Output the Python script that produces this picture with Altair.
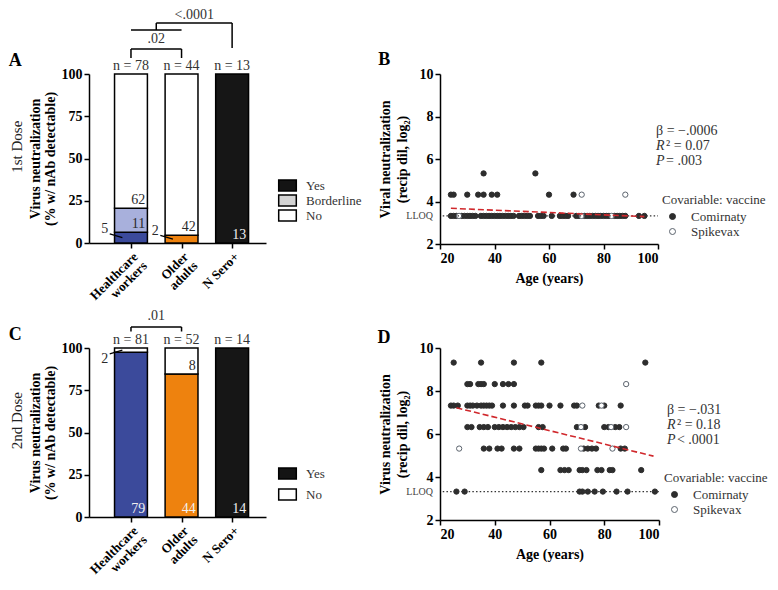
import math
import altair as alt
import pandas as pd

FONT = "Liberation Serif"

# ---------------- data: bar panels ----------------
groups = ["Healthcare workers", "Older adults", "N Sero+"]
group_label_lines = [["Healthcare", "workers"], ["Older", "adults"], ["N Sero+"]]
group_colors = ["#3b4a9b", "#ee820e", "#161616"]
borderline_color = "#a8b0dc"

dose1_yes = [5, 2, 13]
dose1_borderline = [11, 0, 0]
dose1_no = [62, 42, 0]
dose2_yes = [79, 44, 14]
dose2_borderline = [0, 0, 0]
dose2_no = [2, 8, 0]

dose1_pvals = [".02", "<.0001"]
dose2_pvals = [".01"]

responses1 = ["Yes", "Borderline", "No"]
legend_fills1 = ["#141414", "#d3d3d3", "white"]
responses2 = ["Yes", "No"]
legend_fills2 = ["#141414", "white"]

# ---------------- data: scatter panels (age by reciprocal dilution) ----------------
vaccines = ["Comirnaty", "Spikevax"]
LLOQ_DIL = 10

b_comirnaty = {
    10: [24, 25, 26, 28, 29, 30, 31, 32, 33, 35, 36, 37, 38, 39, 40, 41, 42, 43, 44, 45,
         46, 47, 49, 50, 51, 52, 53, 56, 57, 58, 61, 64, 65, 66, 67, 70, 71, 73, 74, 75,
         76, 77, 78, 79, 80, 81, 82, 84, 85, 86, 87, 88, 93, 95],
    20: [24, 25, 30, 34, 36, 39, 41, 60, 69],
    40: [36, 55],
}
b_spikevax = {10: [27, 72, 83], 20: [72, 88]}

d_comirnaty = {
    10: [26, 29, 71, 72, 74, 76.5, 79.5, 84.5, 88.5, 98.5],
    20: [57, 64, 65.5, 67, 71, 72, 73.5, 77.5, 79, 82, 83, 93.5],
    40: [36, 38, 41, 42.5, 47, 49, 55, 56, 57, 58, 61, 65, 66, 72.5, 74, 75.5, 77, 86, 87.5],
    80: [30, 31.5, 34.5, 36, 37.5, 40, 41.5, 43, 44.5, 46, 47.5, 49, 50.5, 56, 57.5, 70, 73,
         80, 81.5, 84, 85.5],
    160: [24, 25, 26.5, 30, 31, 32, 33.5, 35, 36, 37, 38, 39, 43, 47, 51, 52, 55, 56, 57, 60,
          64, 69, 70, 78, 80, 86],
    320: [30, 31, 34, 35, 36, 40, 43, 45, 47],
    640: [25, 35, 47, 57, 95],
}
d_spikevax = {40: [27, 71.5, 83], 80: [71.5, 82.5, 88], 160: [72, 79], 320: [88]}

b_fit_age = [24, 95]
b_fit_titer = [3.68, 3.29]
d_fit_age = [26, 98]
d_fit_titer = [7.22, 4.97]

b_stats = ["β = −.0006", "² = 0.07", " = .003"]
d_stats = ["β = −.031", "² = 0.18", " < .0001"]

# ---------------- helpers ----------------
XDOM = [0.17, 3.67]
BAR_HALF = 0.325
RECT_PATH = "M-1.6,-1H1.6V1H-1.6Z"


def label_expr():
    parts = []
    for i, lines in enumerate(group_label_lines):
        arr = "[" + ",".join("'" + s + "'" for s in lines) + "]"
        parts.append(f"datum.value == {i + 1} ? {arr} : ")
    return "".join(parts) + "''"


def text_layer(df, xs, ys, **mark):
    return alt.Chart(df).mark_text(font=FONT, **mark).encode(
        x=alt.X("x:Q", scale=xs),
        y=alt.Y("y:Q", scale=ys),
        text="text:N",
    )


def rule_layer(df, xs, ys, **mark):
    return alt.Chart(df).mark_rule(**mark).encode(
        x=alt.X("x:Q", scale=xs), x2="x2:Q",
        y=alt.Y("y:Q", scale=ys), y2="y2:Q",
    )


def bar_panel(yes, border, no, resp_names, resp_fills, letter, row_label, bracket_segs,
              bracket_texts, height, legend_y, legend_pad):
    xs = alt.Scale(domain=XDOM, nice=False, zero=False)
    ys = alt.Scale(domain=[0, 100], nice=False)
    ppu = height / 100.0  # pixels per percent, used to keep label gaps in pixels
    seg_rows, in_labels_dark, in_labels_light, out_labels, leaders, n_rows = [], [], [], [], [], []
    for i in range(len(groups)):
        n = yes[i] + border[i] + no[i]
        n_rows.append(dict(x=i + 1, y=100 + 8.3 / ppu, text=f"n = {n}"))
        start = 0.0
        for resp, cnt, col in [("Yes", yes[i], group_colors[i]),
                               ("Borderline", border[i], borderline_color),
                               ("No", no[i], "white")]:
            if cnt == 0:
                continue
            pct = 100.0 * cnt / n
            seg_rows.append(dict(idx=i + 1, y0=start, y1=start + pct, fill=col))
            if pct >= 8:
                lab = dict(x=i + 1 + 0.28, y=start, text=str(cnt))
                (in_labels_light if resp == "Yes" else in_labels_dark).append(lab)
            else:
                mid = start + pct / 2
                s = 1 if mid < 50 else -1
                out_labels.append(dict(x=i + 1 - 0.52, y=mid + s * 5, text=str(cnt)))
                leaders.append(dict(x=i + 1 - 0.42, y=mid + s * 2.2, x2=i + 1 - 0.17, y2=mid))
            start += pct
    seg = pd.DataFrame(seg_rows)

    xaxis = alt.Axis(values=[1, 2, 3], labelExpr=label_expr(), labelAngle=-45,
                     labelAlign="right", labelBaseline="top", title="", labelOverlap=False,
                     labelFontSize=13, labelLineHeight=13, labelPadding=2)
    yaxis = alt.Axis(values=[0, 25, 50, 75, 100],
                     title=["Virus neutralization", "(% w/ nAb detectable)"],
                     titlePadding=4, titleLineHeight=15)

    bars = alt.Chart(seg).transform_calculate(
        xl=f"datum.idx - {BAR_HALF}", xr=f"datum.idx + {BAR_HALF}"
    ).mark_rect(stroke="black", strokeWidth=1.5).encode(
        x=alt.X("xl:Q", scale=xs, axis=xaxis), x2="xr:Q",
        y=alt.Y("y0:Q", scale=ys, axis=yaxis), y2="y1:Q",
        color=alt.Color("fill:N", scale=None),
    )
    # bracket geometry given in pixels above the plot, converted to percent units
    bsegs = pd.DataFrame([dict(x=a, x2=b, y=100 + p / ppu, y2=100 + q / ppu)
                          for a, b, p, q in bracket_segs])
    btxt = pd.DataFrame([dict(x=a, y=100 + p / ppu, text=t) for a, p, t in bracket_texts])
    layers = [bars]
    layers.append(text_layer(pd.DataFrame(n_rows), xs, ys, fontSize=14, color="#333",
                             baseline="middle"))
    if in_labels_dark:
        layers.append(text_layer(pd.DataFrame(in_labels_dark), xs, ys, fontSize=14,
                                 color="#2a2a2a", align="right", baseline="bottom", dy=-1))
    if in_labels_light:
        layers.append(text_layer(pd.DataFrame(in_labels_light), xs, ys, fontSize=14,
                                 color="#f0f0f0", align="right", baseline="bottom", dy=-1))
    if out_labels:
        layers.append(text_layer(pd.DataFrame(out_labels), xs, ys, fontSize=14,
                                 color="#2a2a2a", baseline="middle"))
        layers.append(rule_layer(pd.DataFrame(leaders), xs, ys, color="black", strokeWidth=1.3))
    layers.append(rule_layer(bsegs, xs, ys, color="black", strokeWidth=1.5))
    layers.append(text_layer(btxt, xs, ys, fontSize=14, color="#333", baseline="middle"))
    layers.append(text_layer(pd.DataFrame([dict(x=-1.29, y=100 + 13 / ppu, text=letter)]), xs, ys,
                             fontSize=18, fontWeight="bold", color="black", baseline="middle"))
    layers.append(text_layer(pd.DataFrame([dict(x=-1.26, y=57, text=row_label)]), xs, ys,
                             fontSize=15, color="#222", baseline="middle", angle=270))
    leg = alt.Chart(pd.DataFrame({"resp": resp_names})).mark_square(opacity=0).encode(
        fill=alt.Fill("resp:N", scale=alt.Scale(domain=resp_names, range=resp_fills),
                      legend=alt.Legend(title=None, orient="none", legendX=192, legendY=legend_y,
                                        symbolType=RECT_PATH, symbolSize=121,
                                        symbolStrokeColor="black", symbolStrokeWidth=1.5,
                                        symbolOpacity=1, labelFont=FONT, labelFontSize=13,
                                        labelFontWeight="normal", labelColor="#333",
                                        labelOffset=12, rowPadding=legend_pad))
    )
    layers.append(leg)
    return alt.layer(*layers).properties(width=177, height=height)


def scatter_df(comirnaty, spikevax):
    rows = []
    for vac, d in [("Comirnaty", comirnaty), ("Spikevax", spikevax)]:
        for dil, ages in d.items():
            for a in ages:
                rows.append(dict(age=a, titer=math.log2(dil), vaccine=vac))
    return pd.DataFrame(rows)


def vaccine_legend(legend_xy):
    return alt.Legend(title="Covariable: vaccine", orient="none",
                      legendX=legend_xy[0], legendY=legend_xy[1],
                      titleFont=FONT, titleFontSize=13, titleFontWeight="normal",
                      titleColor="#333", labelFont=FONT, labelFontSize=13, labelColor="#333",
                      symbolType="circle", symbolSize=36, symbolStrokeWidth=1,
                      symbolOffset=4, labelOffset=12, rowPadding=1, titlePadding=3)


def scatter_panel(comirnaty, spikevax, fit_age, fit_titer, stats, letter, ytitle, height,
                  width, stat_xy, letter_xy, legend_xy):
    xs = alt.Scale(domain=[20, 100], nice=False, zero=False)
    ys = alt.Scale(domain=[2, 10], nice=False, zero=False)
    lloq = math.log2(LLOQ_DIL)
    df = scatter_df(comirnaty, spikevax)
    pts = alt.Chart(df).mark_point(shape="circle", filled=True, size=28, strokeWidth=1,
                                   opacity=1).encode(
        x=alt.X("age:Q", scale=xs,
                axis=alt.Axis(values=[20, 40, 60, 80, 100], title="Age (years)",
                              titlePadding=6)),
        y=alt.Y("titer:Q", scale=ys,
                axis=alt.Axis(values=[2, 4, 6, 8, 10], title=ytitle, titlePadding=10,
                              titleLineHeight=17)),
        fill=alt.Fill("vaccine:N", scale=alt.Scale(domain=vaccines, range=["#2d2d2d", "white"]),
                      legend=vaccine_legend(legend_xy)),
        stroke=alt.Stroke("vaccine:N",
                          scale=alt.Scale(domain=vaccines, range=["#2d2d2d", "#5b636d"]),
                          legend=vaccine_legend(legend_xy)),
    )
    lloq_line = rule_layer(pd.DataFrame([dict(x=21, x2=100, y=lloq, y2=lloq)]), xs, ys,
                           color="#333", strokeWidth=1.3, strokeDash=[1.5, 2.2])
    fit = alt.Chart(pd.DataFrame({"age": fit_age, "titer": fit_titer})).mark_line(
        color="#d0282c", strokeDash=[6, 3], strokeWidth=1.6).encode(
        x=alt.X("age:Q", scale=xs), y=alt.Y("titer:Q", scale=ys))
    lloq_txt = text_layer(pd.DataFrame([dict(x=20, y=lloq, text="LLOQ")]), xs, ys,
                          fontSize=10, color="#444", align="right", baseline="middle", dx=-7)
    sx, sy = stat_xy
    step = 15.2 / (height / 8.0)
    st1 = text_layer(pd.DataFrame([dict(x=sx, y=sy, text=stats[0])]), xs, ys, fontSize=14,
                     color="#333", align="left", baseline="middle")
    st_it = text_layer(pd.DataFrame([dict(x=sx, y=sy - step, text="R"),
                                     dict(x=sx, y=sy - 2 * step, text="P")]), xs, ys,
                       fontSize=14, fontStyle="italic", color="#333", align="left",
                       baseline="middle")
    st_rest = text_layer(pd.DataFrame([dict(x=sx, y=sy - step, text=stats[1]),
                                       dict(x=sx, y=sy - 2 * step, text=stats[2])]), xs, ys,
                         fontSize=14, color="#333", align="left", baseline="middle", dx=10)
    let = text_layer(pd.DataFrame([dict(x=letter_xy[0], y=letter_xy[1], text=letter)]), xs, ys,
                     fontSize=18, fontWeight="bold", color="black", baseline="middle")
    return alt.layer(pts, lloq_line, fit, lloq_txt, st1, st_it, st_rest, let).properties(
        width=width, height=height)


# ---------------- panels ----------------
# bracket segments: (x from, x to, pixels above plot top, pixels above plot top)
br1 = [(1, 2, 25, 25), (1, 1, 25, 16), (2, 2, 25, 16),
       (1, 2, 44, 44), (1.5, 1.5, 44, 51), (1.5, 3, 51, 51), (3, 3, 51, 26)]
bt1 = [(1.5, 35, dose1_pvals[0]), (2.25, 59, dose1_pvals[1])]
br2 = [(1, 2, 21, 21), (1, 1, 21, 16.5), (2, 2, 21, 16.5)]
bt2 = [(1.5, 32, dose2_pvals[0])]

panel_a = bar_panel(dose1_yes, dose1_borderline, dose1_no, responses1, legend_fills1, "A",
                    "1st Dose", br1, bt1, 169, 105, -2)
panel_c = bar_panel(dose2_yes, dose2_borderline, dose2_no, responses2, legend_fills2, "C",
                    "2nd Dose", br2, bt2, 169, 119, 4)
panel_b = scatter_panel(b_comirnaty, b_spikevax, b_fit_age, b_fit_titer, b_stats, "B",
                        ["Viral neutralization", "(recip dil, log₂)"], 170, 218,
                        (99.3, 7.33), (-0.5, 10.65), (222, 120))
panel_d = scatter_panel(d_comirnaty, d_spikevax, d_fit_age, d_fit_titer, d_stats, "D",
                        ["Virus neutralization", "(recip dil, log₂)"], 172, 219,
                        (102.9, 7.13), (-0.5, 10.46), (224, 124))

chart = alt.concat(panel_a, panel_b, panel_c, panel_d, columns=2,
                   spacing={"row": 104, "column": 174}, bounds="flush", padding=0).resolve_scale(
    fill="independent", stroke="independent", color="independent").resolve_legend(
    fill="independent", stroke="independent").configure(
    font=FONT).configure_view(stroke=None).configure_axis(
    domainColor="black", domainWidth=1.5, tickColor="black", tickWidth=1.5, tickSize=5,
    labelFont=FONT, labelFontSize=14, labelFontWeight="bold", labelColor="black",
    titleFont=FONT, titleFontSize=14, titleFontWeight="bold", titleColor="black", grid=False)

chart.save("out.html", embed_options={"renderer": "svg", "actions": False})
